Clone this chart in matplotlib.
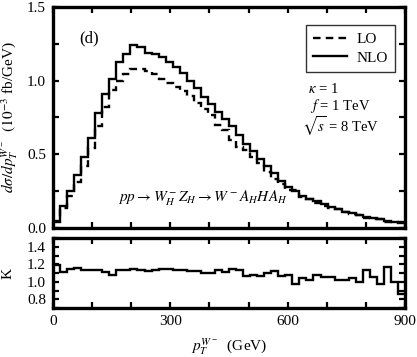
import numpy as np
import matplotlib
matplotlib.use("Agg")
import matplotlib.pyplot as plt
from matplotlib.ticker import MultipleLocator, FormatStrFormatter
from matplotlib.lines import Line2D

plt.rcParams['font.family'] = ['Liberation Serif', 'DejaVu Serif']
plt.rcParams['mathtext.fontset'] = 'stix'

# bins: 50 bins of 18 GeV from 0 to 900
bin_edges = np.linspace(0, 900, 51)

nlo = [0.05, 0.15, 0.25, 0.36, 0.48, 0.61, 0.78, 0.91, 1.01, 1.13,
       1.18, 1.24, 1.23, 1.19, 1.18, 1.16, 1.13, 1.09, 1.05, 1.00,
       0.95, 0.89, 0.84, 0.79, 0.74, 0.69, 0.63, 0.57, 0.52, 0.47,
       0.42, 0.37, 0.32, 0.28, 0.25, 0.22, 0.20, 0.18, 0.16, 0.145,
       0.13, 0.11, 0.10, 0.085, 0.075, 0.065, 0.058, 0.05, 0.043, 0.035]

kfac = [1.19, 1.11, 1.15, 1.16, 1.14, 1.13, 1.13, 1.11, 1.08, 1.13,
        1.13, 1.15, 1.14, 1.12, 1.13, 1.15, 1.15, 1.14, 1.13, 1.12,
        1.12, 1.10, 1.10, 1.13, 1.11, 1.15, 1.14, 1.07, 1.08, 1.07,
        1.10, 1.12, 1.07, 1.08, 0.98, 1.04, 1.02, 1.08, 1.06, 1.06,
        1.02, 1.02, 1.04, 1.00, 1.14, 1.06, 0.98, 1.17, 1.00, 0.86]

lo = [n / k for n, k in zip(nlo, kfac)]

W, H = 417, 357
fig = plt.figure(figsize=(W / 100, H / 100), dpi=100)

def ax_rect(l, t, r, b):
    return [l / W, 1 - b / H, (r - l) / W, (b - t) / H]

ax = fig.add_axes(ax_rect(53, 7, 405, 228))
axk = fig.add_axes(ax_rect(53, 238, 405, 308))

lw = 1.7
dash = (0, (3.2, 2.2))
ax.stairs(nlo, bin_edges, color='black', lw=lw, baseline=None)
ax.stairs(lo, bin_edges, color='black', lw=lw, ls=dash, baseline=None)
axk.stairs(kfac, bin_edges, color='black', lw=lw, baseline=None)

for a in (ax, axk):
    a.set_xlim(0, 900)
    a.xaxis.set_major_locator(MultipleLocator(300))
    a.xaxis.set_minor_locator(MultipleLocator(100))
    a.tick_params(which='both', direction='in', top=True, right=True,
                  labelsize=11, width=1.6, length=4, pad=5)
    for s in a.spines.values():
        s.set_linewidth(2.4)

ax.set_ylim(0, 1.5)
ax.yaxis.set_major_locator(MultipleLocator(0.5))
ax.yaxis.set_minor_locator(MultipleLocator(0.25))
ax.yaxis.set_major_formatter(FormatStrFormatter('%.1f'))
ax.tick_params(labelbottom=False)

axk.set_ylim(0.7, 1.5)
axk.set_yticks([0.8, 1.0, 1.2, 1.4])
axk.yaxis.set_minor_locator(MultipleLocator(0.1))
axk.yaxis.set_major_formatter(FormatStrFormatter('%.1f'))

ax.set_ylabel(r'$d\sigma/dp_T^{W^-}$  $(10^{-3}$ fb/GeV)', fontsize=11, labelpad=5)
axk.set_ylabel('K', fontsize=11, labelpad=9)
axk.set_xlabel(r'$p_T^{W^-}$  (GeV)', fontsize=11, labelpad=6)

h_lo = Line2D([], [], color='black', lw=lw, ls=dash)
h_nlo = Line2D([], [], color='black', lw=lw)
leg = ax.legend([h_lo, h_nlo], ['LO', 'NLO'], loc='upper right',
                bbox_to_anchor=(0.972, 0.918), borderaxespad=0, fontsize=11,
                frameon=True, fancybox=False, edgecolor='black',
                handlelength=2.2, borderpad=0.5, labelspacing=0.3,
                handletextpad=0.6)
leg.get_frame().set_linewidth(1.0)

ax.text(0.075, 0.84, '(d)', transform=ax.transAxes, fontsize=12)
ax.text(0.725, 0.63, r'$\kappa$ = 1', transform=ax.transAxes, fontsize=10.5, va='center')
ax.text(0.73, 0.552, r'$f$ = 1 TeV', transform=ax.transAxes, fontsize=10.5, va='center')
ax.text(0.708, 0.462, r'$\sqrt{s}$ = 8 TeV', transform=ax.transAxes, fontsize=10.5, va='center')
ax.text(0.185, 0.12, r'$pp \rightarrow W_H^- Z_H \rightarrow W^- A_H H A_H$',
        transform=ax.transAxes, fontsize=11)

fig.savefig('out.png', dpi=100)
